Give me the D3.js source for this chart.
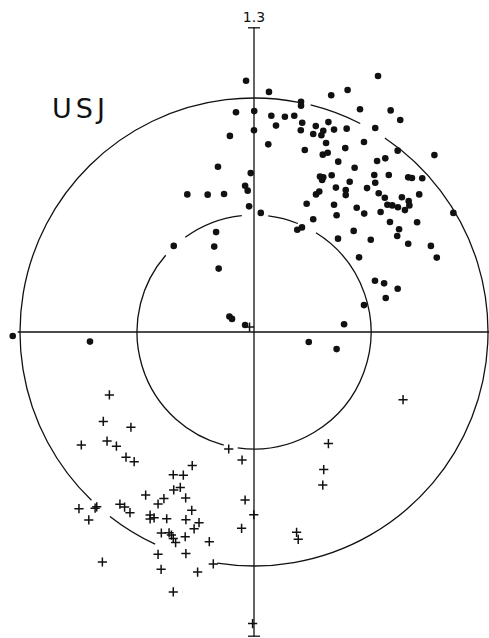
<!DOCTYPE html>
<html>
<head>
<meta charset="utf-8">
<script src="https://cdn.jsdelivr.net/npm/d3@7"></script>
<style>
html,body{margin:0;padding:0;background:#fff;}
svg{display:block;}
</style>
</head>
<body>
<svg id="chart" width="489" height="638"></svg>
<script>
// ---- data (units: outer circle = 1.0) ----
const axisMax = 1.3;
const axisLabel = "1.3";
const panelLabel = "USJ";
const ringRadii = [0.5, 1.0];
// gaps (degrees, counter-clockwise from +x) where the plotted rings are broken
const outerGaps = [[56, 63], [76, 79], [226, 232], [245, 261]];
const innerGaps = [[58, 68], [83, 96], [126, 139], [255, 262]];

const dotX = [-0.034,0.064,0.530,0.400,0.330,0.201,0.201,-0.077,0.001,0.074,0.132,0.172,0.453,0.584,0.625,0.206,0.094,0.318,0.264,0.200,0.296,0.342,0.396,0.518,0.253,0.288,0.000,-0.103,0.308,0.061,0.470,0.217,0.390,0.614,0.294,0.315,0.771,0.360,0.526,0.561,-0.154,0.430,-0.014,0.282,0.296,0.332,0.514,0.576,0.659,0.675,0.719,0.291,0.409,0.518,-0.038,-0.027,0.350,0.483,-0.285,-0.198,-0.128,0.279,0.265,0.392,0.392,0.533,0.559,0.632,0.706,-0.021,0.225,0.342,0.570,0.591,0.615,0.645,0.661,0.664,0.439,0.029,0.353,0.471,0.541,0.852,0.253,0.581,0.697,0.185,0.205,0.426,0.620,0.612,-0.162,0.359,0.499,0.659,0.756,-0.343,-0.170,0.781,0.449,-0.151,0.517,0.556,0.614,0.563,0.470,-0.105,-0.094,-0.038,0.385,0.234,0.353,-1.031,-0.701];
const dotY = [1.074,1.026,1.094,1.034,1.012,0.984,0.967,0.939,0.944,0.924,0.920,0.924,0.952,0.947,0.906,0.894,0.882,0.897,0.880,0.862,0.860,0.865,0.869,0.872,0.846,0.841,0.862,0.838,0.808,0.802,0.812,0.778,0.786,0.775,0.758,0.766,0.756,0.728,0.731,0.742,0.706,0.702,0.679,0.664,0.661,0.670,0.671,0.671,0.661,0.658,0.657,0.650,0.642,0.638,0.625,0.604,0.617,0.615,0.588,0.587,0.590,0.600,0.588,0.607,0.585,0.593,0.574,0.576,0.588,0.537,0.548,0.544,0.544,0.541,0.533,0.521,0.560,0.541,0.531,0.509,0.499,0.506,0.513,0.509,0.482,0.470,0.469,0.437,0.447,0.432,0.439,0.410,0.427,0.399,0.394,0.377,0.368,0.368,0.365,0.318,0.319,0.271,0.219,0.208,0.185,0.145,0.115,0.066,0.056,0.030,0.033,-0.043,-0.073,-0.017,-0.041];

const crossX = [-0.618,-0.644,-0.526,-0.738,-0.628,-0.588,-0.547,-0.512,-0.264,-0.345,-0.302,-0.343,-0.315,-0.463,-0.385,-0.410,-0.292,-0.266,-0.748,-0.706,-0.679,-0.672,-0.573,-0.553,-0.530,-0.444,-0.427,-0.444,-0.373,-0.291,-0.235,-0.256,-0.396,-0.363,-0.353,-0.345,-0.335,-0.294,-0.191,-0.410,-0.291,-0.174,-0.397,-0.241,-0.648,-0.345,-0.108,-0.051,-0.038,-0.001,-0.053,0.182,0.189,-0.006,0.637,0.318,0.298,0.294,-0.019];
const crossY = [-0.269,-0.382,-0.407,-0.483,-0.466,-0.488,-0.535,-0.554,-0.571,-0.610,-0.612,-0.675,-0.664,-0.697,-0.712,-0.735,-0.709,-0.762,-0.755,-0.803,-0.753,-0.747,-0.736,-0.748,-0.772,-0.782,-0.794,-0.799,-0.798,-0.802,-0.815,-0.841,-0.859,-0.858,-0.868,-0.882,-0.900,-0.875,-0.896,-0.950,-0.947,-0.991,-1.014,-1.026,-0.983,-1.111,-0.500,-0.547,-0.718,-0.781,-0.839,-0.856,-0.886,-1.246,-0.289,-0.477,-0.588,-0.654,0.021];

// ---- layout ----
const W = 489, H = 638;
const cx = 254, cy = 332, unitPx = 234;
const svg = d3.select("#chart");
svg.append("rect").attr("width", W).attr("height", H).attr("fill", "#fff");

const x = d3.scaleLinear().domain([-axisMax, axisMax]).range([cx - axisMax * unitPx, cx + axisMax * unitPx]);
const y = d3.scaleLinear().domain([-axisMax, axisMax]).range([cy + axisMax * unitPx, cy - axisMax * unitPx]);

const ink = "#111";
const g = svg.append("g");

// rings with gaps
function ringPath(r, gaps) {
  const rp = x(r) - x(0);
  const segs = [];
  const sorted = gaps.slice().sort((a, b) => a[0] - b[0]);
  let start = sorted.length ? sorted[sorted.length - 1][1] - 360 : 0;
  sorted.forEach(gp => { segs.push([start, gp[0]]); start = gp[1]; });
  if (!sorted.length) segs.push([0, 360]);
  const p = d3.path();
  const rad = Math.PI / 180;
  segs.forEach(([a0, a1]) => {
    p.moveTo(x(0) + rp * Math.cos(a0 * rad), y(0) - rp * Math.sin(a0 * rad));
    p.arc(x(0), y(0), rp, -a0 * rad, -a1 * rad, true);
  });
  return p.toString();
}
g.append("path").attr("d", ringPath(ringRadii[1], outerGaps))
  .attr("fill", "none").attr("stroke", ink).attr("stroke-width", 1.3);
g.append("path").attr("d", ringPath(ringRadii[0], innerGaps))
  .attr("fill", "none").attr("stroke", ink).attr("stroke-width", 1.3);

// axes
g.append("line").attr("x1", x(0)).attr("x2", x(0)).attr("y1", y(axisMax)).attr("y2", y(-axisMax))
  .attr("stroke", ink).attr("stroke-width", 1.3);
g.append("line").attr("x1", x(-1.01)).attr("x2", x(axisMax)).attr("y1", y(0)).attr("y2", y(0))
  .attr("stroke", ink).attr("stroke-width", 1.3);
// end caps
[axisMax, -axisMax].forEach(v => {
  g.append("line").attr("x1", x(0) - 6).attr("x2", x(0) + 6).attr("y1", y(v)).attr("y2", y(v))
    .attr("stroke", ink).attr("stroke-width", 1.3);
});

// labels
g.append("text").attr("x", x(0)).attr("y", y(axisMax) - 6).attr("text-anchor", "middle")
  .attr("font-family", "DejaVu Sans, sans-serif").attr("font-size", 14).attr("fill", ink)
  .text(axisLabel);
g.append("text").attr("x", 52).attr("y", 118)
  .attr("font-family", "DejaVu Sans, sans-serif").attr("font-size", 27).attr("fill", ink)
  .attr("letter-spacing", 4)
  .text(panelLabel);

// dots
const dots = dotX.map((v, i) => ({x: v, y: dotY[i]}));
g.selectAll("circle.dot").data(dots).enter().append("circle").attr("class", "dot")
  .attr("cx", d => x(d.x)).attr("cy", d => y(d.y)).attr("r", 3.3).attr("fill", ink);

// crosses
const crosses = crossX.map((v, i) => ({x: v, y: crossY[i]}));
const cs = 4.6;
g.selectAll("path.cross").data(crosses).enter().append("path").attr("class", "cross")
  .attr("d", d => `M${x(d.x) - cs},${y(d.y)}H${x(d.x) + cs}M${x(d.x)},${y(d.y) - cs}V${y(d.y) + cs}`)
  .attr("stroke", ink).attr("stroke-width", 1.5).attr("fill", "none");
</script>
</body>
</html>
